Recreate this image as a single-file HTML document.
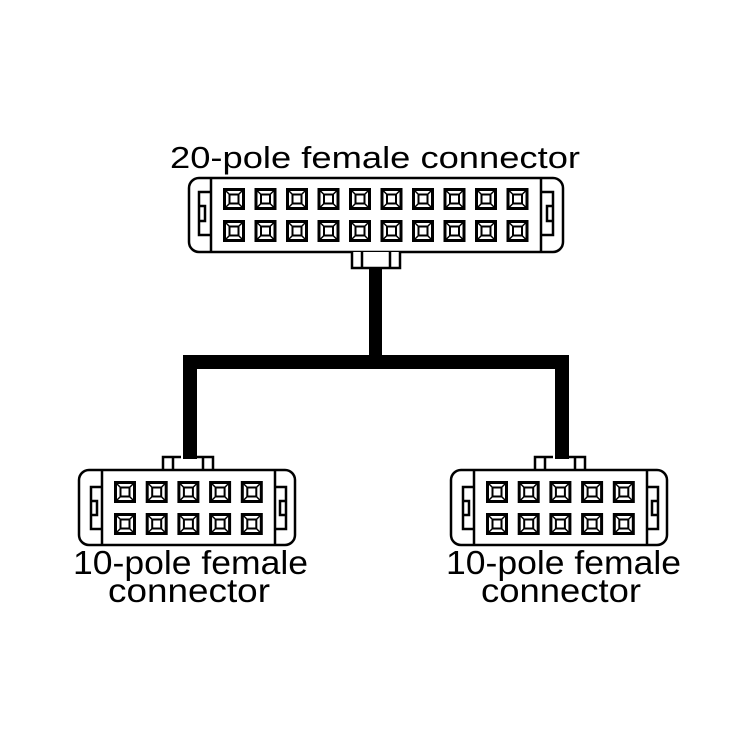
<!DOCTYPE html>
<html><head><style>html,body{margin:0;padding:0;background:#fff}</style></head>
<body>
<svg width="750" height="750" viewBox="0 0 750 750" xmlns="http://www.w3.org/2000/svg">
<defs>
<g id="pin" fill="none" stroke="#000">
<rect x="1.5" y="1.5" width="19" height="19" stroke-width="3"/>
<rect x="6.5" y="6.5" width="9" height="9" stroke-width="2"/>
<path d="M3 3L7 7M19 3L15 7M3 19L7 15M19 19L15 15" stroke-width="1.5"/>
</g>
</defs>
<rect width="750" height="750" fill="#fff"/>
<g font-family="Liberation Sans, Arial, sans-serif" fill="#000">
<text x="170" y="168" font-size="31" textLength="410" lengthAdjust="spacingAndGlyphs">20-pole female connector</text>
<text x="73" y="574" font-size="33" textLength="235" lengthAdjust="spacingAndGlyphs">10-pole female</text>
<text x="108" y="602" font-size="33" textLength="162" lengthAdjust="spacingAndGlyphs">connector</text>
<text x="446" y="574" font-size="33" textLength="235" lengthAdjust="spacingAndGlyphs">10-pole female</text>
<text x="481" y="602" font-size="33" textLength="160" lengthAdjust="spacingAndGlyphs">connector</text>
</g>
<g fill="#000">
<rect x="369" y="266" width="13" height="96"/>
<rect x="183" y="355" width="386" height="14"/>
<rect x="183" y="355" width="14" height="104"/>
<rect x="555" y="355" width="14" height="104"/>
</g>
<g fill="none" stroke="#000" stroke-width="2.5">
<rect x="189" y="178" width="374" height="74" rx="10" fill="#fff"/>
<line x1="211" y1="178" x2="211" y2="252"/>
<line x1="541" y1="178" x2="541" y2="252"/>
<path d="M211 192H199V235H211M199 206H205V221H199" />
<path d="M541 192H553V235H541M553 206H547V221H553" />
<path d="M352 252V268H400V252M362 252V267M390 252V267" fill="#fff"/>
</g>
<g>
<use href="#pin" x="223" y="188"/><use href="#pin" x="254.5" y="188"/><use href="#pin" x="286" y="188"/><use href="#pin" x="317.5" y="188"/><use href="#pin" x="349" y="188"/><use href="#pin" x="380.5" y="188"/><use href="#pin" x="412" y="188"/><use href="#pin" x="443.5" y="188"/><use href="#pin" x="475" y="188"/><use href="#pin" x="506.5" y="188"/>
<use href="#pin" x="223" y="220"/><use href="#pin" x="254.5" y="220"/><use href="#pin" x="286" y="220"/><use href="#pin" x="317.5" y="220"/><use href="#pin" x="349" y="220"/><use href="#pin" x="380.5" y="220"/><use href="#pin" x="412" y="220"/><use href="#pin" x="443.5" y="220"/><use href="#pin" x="475" y="220"/><use href="#pin" x="506.5" y="220"/>
</g>
<g id="bc">
<g fill="none" stroke="#000" stroke-width="2.5">
<path d="M163 470V457H181M196 457H213V470M173 457V470M203 457V470"/>
<rect x="79" y="470" width="216" height="75" rx="10" fill="#fff"/>
<line x1="102" y1="470" x2="102" y2="545"/>
<line x1="275" y1="470" x2="275" y2="545"/>
<path d="M102 487H91V529H102M91 501H97V515H91"/>
<path d="M275 487H286V529H275M286 501H280V515H286"/>
</g>
<use href="#pin" x="114" y="481"/><use href="#pin" x="145.7" y="481"/><use href="#pin" x="177.4" y="481"/><use href="#pin" x="209.1" y="481"/><use href="#pin" x="240.8" y="481"/>
<use href="#pin" x="114" y="513"/><use href="#pin" x="145.7" y="513"/><use href="#pin" x="177.4" y="513"/><use href="#pin" x="209.1" y="513"/><use href="#pin" x="240.8" y="513"/>
</g>
<use href="#bc" x="372" y="0"/>
</svg>
</body></html>
